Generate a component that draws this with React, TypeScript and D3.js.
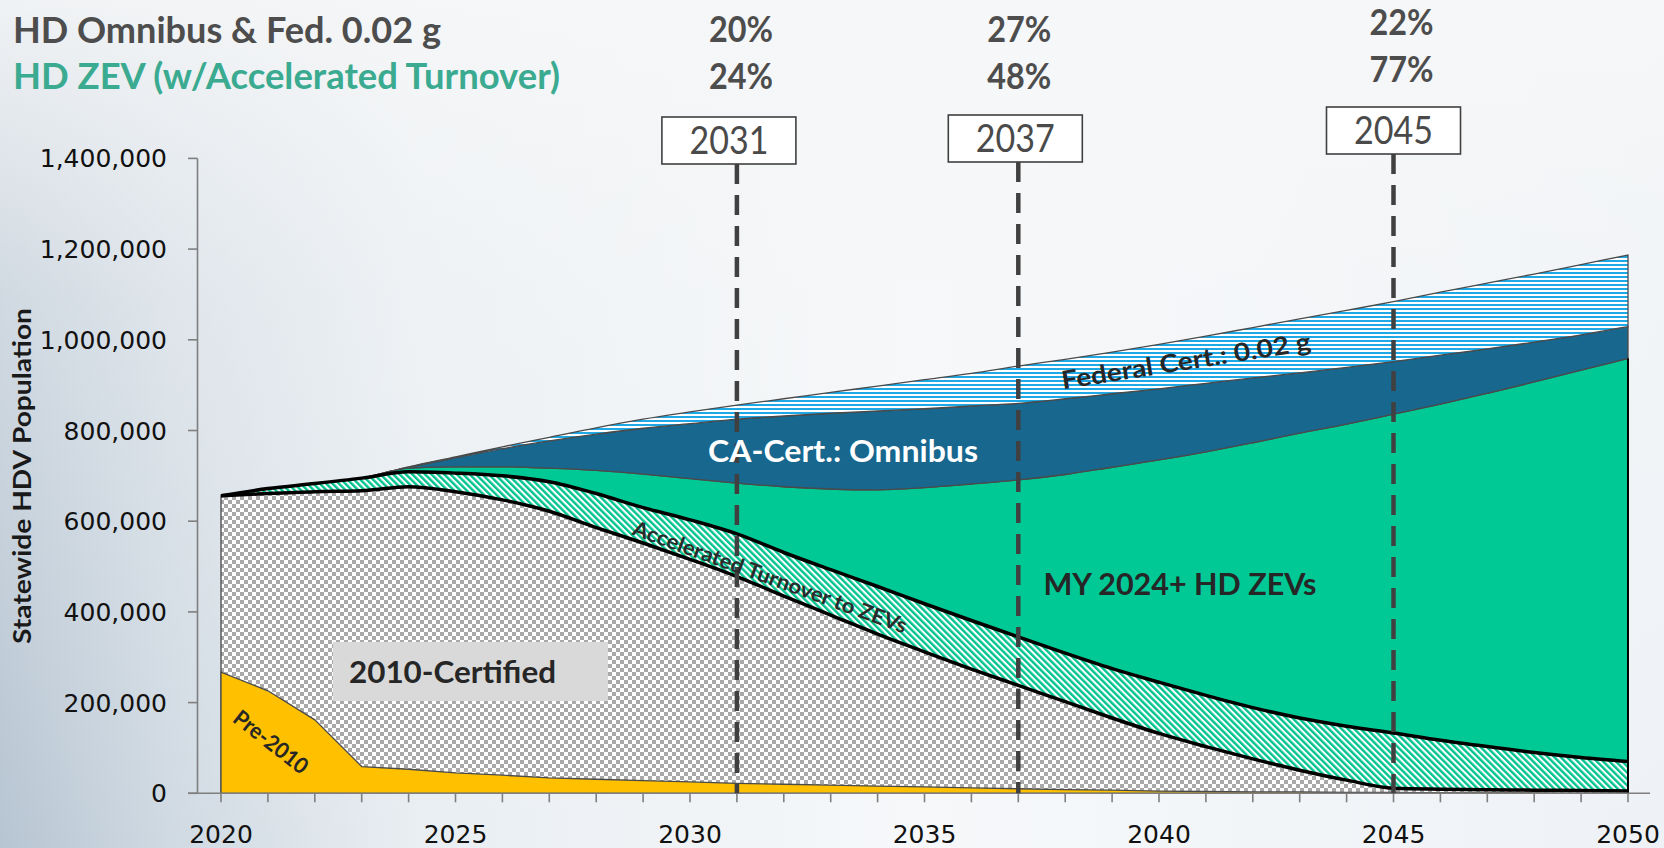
import React from "react";
import * as d3 from "d3";

const years = [2020, 2021, 2022, 2023, 2024, 2025, 2026, 2027, 2028, 2029, 2030, 2031, 2032, 2033, 2034, 2035, 2036, 2037, 2038, 2039, 2040, 2041, 2042, 2043, 2044, 2045, 2046, 2047, 2048, 2049, 2050];
const pre2010 = [267000, 226000, 162000, 59000, 53000, 45000, 40000, 34000, 31000, 28000, 25000, 22000, 20000, 18000, 16000, 14000, 12000, 10000, 8000, 7000, 5000, 4000, 3000, 3000, 2000, 2000, 1000, 1000, 1000, 0, 0];
const cert2010 = [389000, 435000, 503000, 608000, 623000, 620000, 607000, 588000, 555000, 524000, 491000, 456000, 415000, 375000, 335000, 298000, 262000, 228000, 194000, 159000, 127000, 99000, 73000, 48000, 27000, 9000, 8000, 7000, 6000, 6000, 5000];
const accelTurnover = [0, 11000, 18000, 28000, 33000, 41000, 53000, 65000, 75000, 78000, 87000, 94000, 96000, 100000, 105000, 106000, 107000, 107000, 107000, 109000, 113000, 113000, 113000, 115000, 119000, 122000, 108000, 95000, 83000, 73000, 65000];
const zev2024 = [0, 0, 0, 0, 8000, 14000, 20000, 30000, 51000, 74000, 91000, 112000, 145000, 178000, 213000, 256000, 301000, 346000, 394000, 444000, 490000, 537000, 584000, 628000, 666000, 703000, 741000, 779000, 817000, 854000, 889000];
const caOmnibus = [0, 0, 0, 0, 2000, 20000, 40000, 60000, 80000, 101000, 121000, 141000, 156000, 167000, 174000, 174000, 172000, 169000, 167000, 162000, 157000, 151000, 143000, 133000, 125000, 116000, 108000, 98000, 88000, 78000, 70000];
const federal = [0, 0, 0, 0, 1000, 2000, 4000, 8000, 14000, 20000, 26000, 31000, 38000, 46000, 55000, 64000, 72000, 82000, 87000, 92000, 98000, 104000, 111000, 119000, 126000, 132000, 139000, 145000, 150000, 155000, 158000];

const yTicks = [0, 200000, 400000, 600000, 800000, 1000000, 1200000, 1400000];
const xTickLabels = [2020, 2025, 2030, 2035, 2040, 2045, 2050];
const milestoneYears = [2031, 2037, 2045];
const omnibusShares = ["20%", "27%", "22%"];
const zevShares = ["24%", "48%", "77%"];

const titleLine1 = "HD Omnibus & Fed. 0.02 g";
const titleLine2 = "HD ZEV (w/Accelerated Turnover)";
const yAxisTitle = "Statewide HDV Population";

const keys = ["pre", "cert", "accel", "zev", "omni", "fed"];

export default function App() {
  const W = 1664;
  const H = 848;
  const x = d3.scaleLinear().domain([2020, 2050]).range([221, 1628]);
  const y = d3.scaleLinear().domain([0, 1400000]).range([793.3, 158.4]);

  const rows = years.map((yr, i) => ({
    year: yr,
    pre: pre2010[i],
    cert: cert2010[i],
    accel: accelTurnover[i],
    zev: zev2024[i],
    omni: caOmnibus[i],
    fed: federal[i],
  }));
  const stacked = d3.stack<any>().keys(keys)(rows);

  const curve = d3.curveMonotoneX;
  const area = d3
    .area<any>()
    .curve(curve)
    .x((d) => x(d.data.year))
    .y0((d) => y(d[0]))
    .y1((d) => y(d[1]));
  // 2010-certified drawn down to the baseline; Pre-2010 (linear) is drawn on top of it
  const areaToBase = d3
    .area<any>()
    .curve(curve)
    .x((d) => x(d.data.year))
    .y0(() => y(0))
    .y1((d) => y(d[1]));
  const areaLinear = d3
    .area<any>()
    .curve(d3.curveLinear)
    .x((d) => x(d.data.year))
    .y0((d) => y(d[0]))
    .y1((d) => y(d[1]));
  const topLine = d3
    .line<any>()
    .curve(curve)
    .x((d) => x(d.data.year))
    .y((d) => y(d[1]));

  const fills: Record<string, string> = {
    pre: "#FFC000",
    cert: "url(#checker)",
    accel: "url(#hatch)",
    zev: "#00C996",
    omni: "#17678F",
    fed: "url(#hstripe)",
  };

  const fmt = d3.format(",");
  const lastIdx = years.length - 1;
  const zevTopLast = stacked[3][lastIdx][1];

  // milestone layout
  const boxTop = [117, 115, 107];
  const boxDx = [-8, -3, 0];
  const pctDx = [4, 1, 8];
  const pctY1 = [42, 42, 35];
  const pctY2 = [89, 89, 82];

  const darkText = "#262626";

  const drawOrder = [1, 0, 2, 3, 4, 5];

  return (
    <svg
      width={W}
      height={H}
      style={{ position: "fixed", left: 0, top: 0, display: "block" }}
      xmlns="http://www.w3.org/2000/svg"
    >
      <defs>
        <linearGradient id="bgH" x1="0" y1="0" x2="1" y2="0">
          <stop offset="0" stopColor="#B7C5D2" />
          <stop offset="0.1" stopColor="#CFD9E2" />
          <stop offset="0.25" stopColor="#E9EEF2" />
          <stop offset="0.55" stopColor="#F6F8FA" />
          <stop offset="1" stopColor="#EEF2F6" />
        </linearGradient>
        <linearGradient id="bgV" x1="0" y1="0" x2="0" y2="1">
          <stop offset="0" stopColor="#F6F7F8" stopOpacity="0.9" />
          <stop offset="0.35" stopColor="#F6F7F8" stopOpacity="0.4" />
          <stop offset="1" stopColor="#F6F7F8" stopOpacity="0" />
        </linearGradient>
        <pattern id="checker" width="8" height="8" patternUnits="userSpaceOnUse">
          <rect width="8" height="8" fill="#FFFFFF" />
          <rect x="0" y="0" width="4" height="4" fill="#A9A9A9" />
          <rect x="4" y="4" width="4" height="4" fill="#A9A9A9" />
        </pattern>
        <pattern
          id="hatch"
          width="4.5"
          height="4.5"
          patternUnits="userSpaceOnUse"
          patternTransform="rotate(-45)"
        >
          <rect width="4.5" height="4.5" fill="#FFFFFF" />
          <rect x="0" y="0" width="2.4" height="4.5" fill="#00C48F" />
        </pattern>
        <pattern id="hstripe" width="10" height="4" patternUnits="userSpaceOnUse">
          <rect width="10" height="4" fill="#FFFFFF" />
          <rect x="0" y="0" width="10" height="2" fill="#1FA8E6" />
        </pattern>
      </defs>

      <rect width={W} height={H} fill="url(#bgH)" />
      <rect width={W} height={H} fill="url(#bgV)" />

      {/* Stacked areas */}
      {drawOrder.map((i) => {
        const k = keys[i];
        const d =
          k === "cert" ? areaToBase(stacked[i]) : k === "pre" ? areaLinear(stacked[i]) : area(stacked[i]);
        return (
          <path key={k} d={d || ""} fill={fills[k]} stroke="#4A4A4A" strokeWidth={1.3} />
        );
      })}

      {/* Thick black boundaries of accelerated turnover band */}
      <path d={topLine(stacked[1]) || ""} fill="none" stroke="#000" strokeWidth={3.5} strokeLinejoin="round" />
      <path d={topLine(stacked[2]) || ""} fill="none" stroke="#000" strokeWidth={3.5} strokeLinejoin="round" />
      <line x1={x(2050)} x2={x(2050)} y1={y(0)} y2={y(zevTopLast)} stroke="#000" strokeWidth={2} />

      {/* Axes */}
      <g>
        <line x1={197.5} x2={197.5} y1={y(1400000)} y2={y(0)} stroke="#7F7F7F" strokeWidth={1.6} />
        {yTicks.map((t) => (
          <g key={t}>
            <line x1={188} x2={197.5} y1={y(t)} y2={y(t)} stroke="#7F7F7F" strokeWidth={1.6} />
            <text
              x={167}
              y={y(t) + 9}
              textAnchor="end"
              fontFamily="DejaVu Sans"
              fontSize={25}
              fill="#111"
            >
              {fmt(t)}
            </text>
          </g>
        ))}
        <line x1={188} x2={1650} y1={y(0)} y2={y(0)} stroke="#7F7F7F" strokeWidth={1.6} />
        {years.map((yr) => (
          <line key={yr} x1={x(yr)} x2={x(yr)} y1={y(0)} y2={y(0) + 9} stroke="#7F7F7F" strokeWidth={1.6} />
        ))}
        {xTickLabels.map((yr) => (
          <text
            key={yr}
            x={x(yr)}
            y={843}
            textAnchor="middle"
            fontFamily="DejaVu Sans"
            fontSize={25}
            fill="#111"
          >
            {yr}
          </text>
        ))}
        <text
          transform={`translate(31,476) rotate(-90)`}
          textAnchor="middle"
          fontFamily="Lato"
          fontWeight={700}
          fontSize={25}
          textLength={336}
          lengthAdjust="spacingAndGlyphs"
          fill="#1a1a1a"
        >
          {yAxisTitle}
        </text>
      </g>

      {/* Milestones */}
      {milestoneYears.map((yr, i) => {
        const cx = x(yr);
        const bx = cx + boxDx[i];
        return (
          <g key={yr}>
            <line
              x1={cx}
              x2={cx}
              y1={boxTop[i] + 47}
              y2={y(0)}
              stroke="#404040"
              strokeWidth={4.5}
              strokeDasharray="20 11"
            />
            <rect
              x={bx - 67}
              y={boxTop[i]}
              width={134}
              height={47}
              fill="#FFFFFF"
              stroke="#404040"
              strokeWidth={1.6}
            />
            <text
              x={bx}
              y={boxTop[i] + 37}
              textAnchor="middle"
              fontFamily="Lato"
              fontWeight={400}
              fontSize={38}
              textLength={79}
              lengthAdjust="spacingAndGlyphs"
              fill="#4A4A4A"
            >
              {yr}
            </text>
            <text
              x={cx + pctDx[i]}
              y={pctY1[i]}
              textAnchor="middle"
              fontFamily="Lato"
              fontWeight={700}
              fontSize={36}
              textLength={64}
              lengthAdjust="spacingAndGlyphs"
              fill="#4D4D4D"
            >
              {omnibusShares[i]}
            </text>
            <text
              x={cx + pctDx[i]}
              y={pctY2[i]}
              textAnchor="middle"
              fontFamily="Lato"
              fontWeight={700}
              fontSize={36}
              textLength={64}
              lengthAdjust="spacingAndGlyphs"
              fill="#4D4D4D"
            >
              {zevShares[i]}
            </text>
          </g>
        );
      })}

      {/* Titles */}
      <text
        x={13}
        y={43}
        fontFamily="Lato"
        fontWeight={700}
        fontSize={37}
        textLength={428}
        lengthAdjust="spacingAndGlyphs"
        fill="#4D4D4D"
      >
        {titleLine1}
      </text>
      <text
        x={13}
        y={89}
        fontFamily="Lato"
        fontWeight={700}
        fontSize={37}
        textLength={547}
        lengthAdjust="spacingAndGlyphs"
        fill="#3AAA90"
      >
        {titleLine2}
      </text>

      {/* Area labels */}
      <text
        x={843}
        y={462}
        textAnchor="middle"
        fontFamily="Lato"
        fontWeight={700}
        fontSize={30}
        textLength={270}
        lengthAdjust="spacingAndGlyphs"
        fill="#FFFFFF"
      >
        CA-Cert.: Omnibus
      </text>
      <text
        x={1180}
        y={595}
        textAnchor="middle"
        fontFamily="Lato"
        fontWeight={700}
        fontSize={30}
        textLength={273}
        lengthAdjust="spacingAndGlyphs"
        fill={darkText}
      >
        MY 2024+ HD ZEVs
      </text>
      <rect x={333} y={642} width={275} height={59} fill="#D9D9D9" />
      <text
        x={349}
        y={683}
        fontFamily="Lato"
        fontWeight={700}
        fontSize={31}
        textLength={207}
        lengthAdjust="spacingAndGlyphs"
        fill={darkText}
      >
        2010-Certified
      </text>
      <text
        transform="translate(271,742) rotate(38)"
        textAnchor="middle"
        dy="0.35em"
        fontFamily="Lato"
        fontWeight={700}
        fontSize={22}
        textLength={88}
        lengthAdjust="spacingAndGlyphs"
        fill={darkText}
      >
        Pre-2010
      </text>
      <text
        transform="translate(770,577) rotate(20)"
        textAnchor="middle"
        dy="0.35em"
        fontFamily="Lato"
        fontWeight={700}
        fontSize={21}
        textLength={290}
        lengthAdjust="spacingAndGlyphs"
        fill="#2a2a2a"
      >
        Accelerated Turnover to ZEVs
      </text>
      <text
        transform="translate(1186,361) rotate(-9)"
        textAnchor="middle"
        dy="0.35em"
        fontFamily="Lato"
        fontWeight={700}
        fontSize={25}
        textLength={252}
        lengthAdjust="spacingAndGlyphs"
        fill={darkText}
      >
        Federal Cert.: 0.02 g
      </text>
    </svg>
  );
}
